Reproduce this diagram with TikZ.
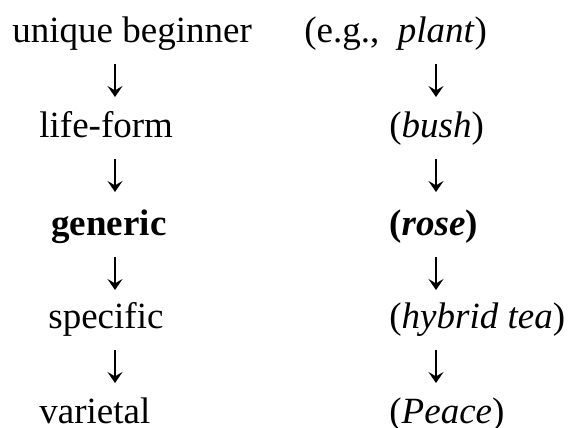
\documentclass[tikz,border=0pt]{standalone}
\usepackage{fontspec}
\setmainfont{Liberation Serif}
\usetikzlibrary{arrows.meta}
\begin{document}
\begin{tikzpicture}[x=0.5pt,y=-0.5pt,
  lbl/.style={anchor=base west,inner sep=0pt,font=\fontsize{18.5}{22}\selectfont},
  down/.style={line width=0.9pt,-{Stealth[length=5.5pt,width=7.5pt,inset=2.2pt]}}]
\useasboundingbox (0,0) rectangle (569,428);
% left column
\node[lbl] (l1) at (12,42) {unique beginner};
\node[lbl] (l2) at (39,137) {life-form};
\node[lbl] (l3) at (51,235) {\bfseries generic};
\node[lbl] (l4) at (48,328) {specific};
\node[lbl] (l5) at (39,423) {varietal};
% right column
\node[lbl] (r1) at (304,42) {(e.g.,~ \textit{plant})};
\node[lbl] (r2) at (389,137) {(\textit{bush})};
\node[lbl] (r3) at (389,235) {\bfseries(\textit{rose})};
\node[lbl] (r4) at (389,328) {(\textit{hybrid tea})};
\node[lbl] (r5) at (389,423) {(\textit{Peace})};
% arrow end points
\foreach \n/\y in {1/42,2/137,3/235,4/328}{
  \coordinate (ls\n) at (115,\y+22);
  \coordinate (le\n) at (115,\y+55);
  \coordinate (rs\n) at (436,\y+22);
  \coordinate (re\n) at (436,\y+55);
}
% arrows
\foreach \n in {1,2,3,4}{
  \draw[down] (ls\n) -- (le\n);
  \draw[down] (rs\n) -- (re\n);
}
\end{tikzpicture}
\end{document}
